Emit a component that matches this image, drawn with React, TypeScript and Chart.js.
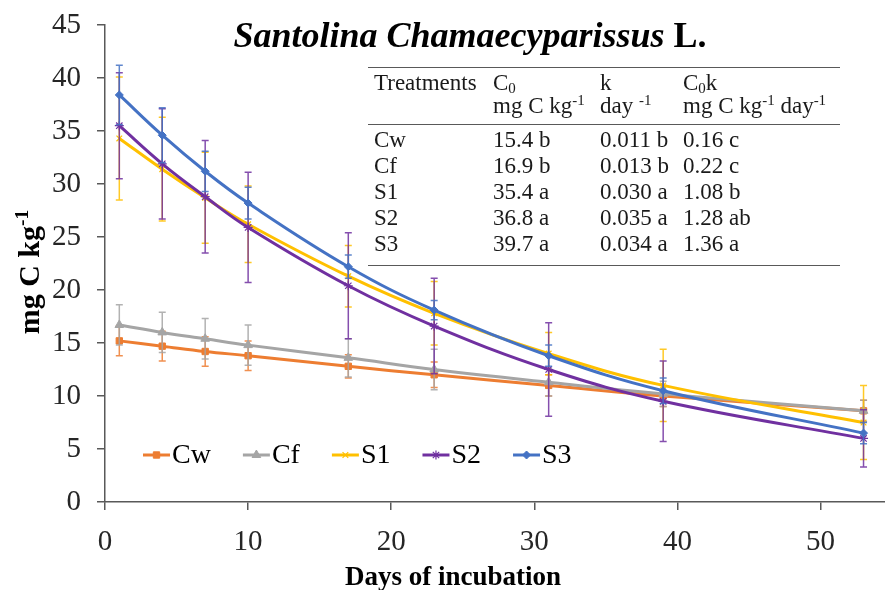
import React, { useEffect, useRef } from 'react';
import { Chart, registerables } from 'chart.js';
import { drawPoint } from 'chart.js/helpers';

Chart.register(...registerables);

// ---------- data ----------
const days = [1, 4, 7, 10, 17, 23, 31, 39, 53];
const seriesNames = ['Cw', 'Cf', 'S1', 'S2', 'S3'];
const cwValues = [15.2, 14.7, 14.2, 13.8, 12.8, 12.0, 11.0, 10.0, 8.6];
const cfValues = [16.7, 16.0, 15.4, 14.8, 13.6, 12.5, 11.3, 10.2, 8.6];
const s1Values = [34.3, 31.4, 28.7, 26.2, 21.3, 17.8, 14.0, 11.0, 7.5];
const s2Values = [35.5, 31.9, 28.8, 25.9, 20.4, 16.6, 12.5, 9.5, 6.0];
const s3Values = [38.4, 34.6, 31.2, 28.2, 22.2, 18.1, 13.8, 10.5, 6.5];
const cwErrors = [1.4, 1.4, 1.4, 1.4, 1.1, 1.2, 1.0, 1.0, 1.0];
const cfErrors = [1.9, 1.9, 1.9, 1.9, 1.8, 1.9, 1.3, 1.2, 1.0];
const s1Errors = [5.8, 4.9, 4.3, 3.6, 2.9, 3.0, 2.0, 3.4, 3.5];
const s2Errors = [5.0, 5.2, 5.3, 5.2, 5.0, 4.5, 4.4, 3.8, 2.7];
const s3Errors = [2.8, 2.6, 1.9, 1.5, 1.1, 0.9, 1.0, 1.2, 1.0];
const xTickValues = [0, 10, 20, 30, 40, 50];
const yTickValues = [0, 5, 10, 15, 20, 25, 30, 35, 40, 45];

const tableTreatments = ['Cw', 'Cf', 'S1', 'S2', 'S3'];
const tableC0 = ['15.4 b', '16.9 b', '35.4 a', '36.8 a', '39.7 a'];
const tableK = ['0.011 b', '0.013 b', '0.030 a', '0.035 a', '0.034 a'];
const tableC0k = ['0.16 c', '0.22 c', '1.08 b', '1.28 ab', '1.36 a'];

const titleItalic = 'Santolina Chamaecyparissus';
const titlePlain = ' L.';
const xTitle = 'Days of incubation';

// ---------- styles ----------
const colors = ['#ED7D31', '#A5A5A5', '#FFC000', '#7030A0', '#4472C4'];
const pointStyles = ['rect', 'triangle', 'crossRot', 'star', 'rectRot'];
const pointRadii = [4.5, 5, 4, 4.5, 4];
const pointBorders = [1, 1, 1.2, 1.2, 1];
const SERIF = '"Liberation Serif", "Times New Roman", serif';

type Seg = { t: string; s?: 'sub' | 'sup' };

function drawRich(ctx: CanvasRenderingContext2D, segs: Seg[], x: number, y: number, size: number, weight = 'normal', style = 'normal') {
  let cx = x;
  for (const seg of segs) {
    let fs = size;
    let dy = 0;
    if (seg.s === 'sub') { fs = size * 0.65; dy = size * 0.12; }
    if (seg.s === 'sup') { fs = size * 0.65; dy = -size * 0.36; }
    ctx.font = `${style} ${weight} ${fs}px ${SERIF}`;
    ctx.fillText(seg.t, cx, y + dy);
    cx += ctx.measureText(seg.t).width;
  }
  return cx - x;
}

function measureRich(ctx: CanvasRenderingContext2D, segs: Seg[], size: number, weight = 'normal', style = 'normal') {
  let w = 0;
  for (const seg of segs) {
    const fs = seg.s ? size * 0.65 : size;
    ctx.font = `${style} ${weight} ${fs}px ${SERIF}`;
    w += ctx.measureText(seg.t).width;
  }
  return w;
}

const errorValues = [cwErrors, cfErrors, s1Errors, s2Errors, s3Errors];

const errorBarPlugin = {
  id: 'errorBars',
  beforeDatasetDraw(chart: any, args: any) {
    const { ctx, scales } = chart;
    const i = args.index;
    const errs = errorValues[i];
    const ds = chart.data.datasets[i];
    ctx.save();
    ctx.strokeStyle = colors[i];
    ctx.lineWidth = 1.5;
    ctx.globalAlpha = 0.85;
    ds.data.forEach((p: any, j: number) => {
      const x = scales.x.getPixelForValue(p.x);
      const yt = scales.y.getPixelForValue(p.y + errs[j]);
      const yb = scales.y.getPixelForValue(p.y - errs[j]);
      ctx.beginPath();
      ctx.moveTo(x, yt); ctx.lineTo(x, yb);
      ctx.moveTo(x - 3.5, yt); ctx.lineTo(x + 3.5, yt);
      ctx.moveTo(x - 3.5, yb); ctx.lineTo(x + 3.5, yb);
      ctx.stroke();
    });
    ctx.restore();
  },
};

const decorPlugin = {
  id: 'decor',
  afterDraw(chart: any) {
    const ctx: CanvasRenderingContext2D = chart.ctx;
    ctx.save();
    ctx.fillStyle = '#000';
    ctx.textBaseline = 'alphabetic';
    ctx.textAlign = 'left';

    // Title
    const tSize = 36;
    ctx.font = `italic bold ${tSize}px ${SERIF}`;
    const w1 = ctx.measureText(titleItalic).width;
    ctx.font = `normal bold ${tSize}px ${SERIF}`;
    const w2 = ctx.measureText(titlePlain).width;
    const tx = 470 - (w1 + w2) / 2;
    ctx.font = `italic bold ${tSize}px ${SERIF}`;
    ctx.fillText(titleItalic, tx, 47);
    ctx.font = `normal bold ${tSize}px ${SERIF}`;
    ctx.fillText(titlePlain, tx + w1, 47);

    // Table
    const fs = 23;
    const cols = [374, 493, 600, 683];
    ctx.strokeStyle = '#595959';
    ctx.lineWidth = 1;
    [67, 124, 265].forEach((yy) => {
      ctx.beginPath(); ctx.moveTo(368, yy + 0.5); ctx.lineTo(840, yy + 0.5); ctx.stroke();
    });
    ctx.fillStyle = '#1a1a1a';
    const head1: Seg[][] = [[{ t: 'Treatments' }], [{ t: 'C' }, { t: '0', s: 'sub' }], [{ t: 'k' }], [{ t: 'C' }, { t: '0', s: 'sub' }, { t: 'k' }]];
    const head2: Seg[][] = [[], [{ t: 'mg C kg' }, { t: '-1', s: 'sup' }], [{ t: 'day ' }, { t: '-1', s: 'sup' }], [{ t: 'mg C kg' }, { t: '-1', s: 'sup' }, { t: ' day' }, { t: '-1', s: 'sup' }]];
    head1.forEach((segs, c) => drawRich(ctx, segs, cols[c], 90, fs));
    head2.forEach((segs, c) => drawRich(ctx, segs, cols[c], 113, fs));
    tableTreatments.forEach((tr, r) => {
      const yy = 147 + r * 26;
      const cells = [tr, tableC0[r], tableK[r], tableC0k[r]];
      cells.forEach((txt, c) => drawRich(ctx, [{ t: txt }], cols[c], yy, fs));
    });

    // Legend
    const lfs = 28;
    let lx = 143;
    const ly = 455;
    seriesNames.forEach((name, i) => {
      ctx.strokeStyle = colors[i];
      ctx.lineWidth = 3;
      ctx.beginPath(); ctx.moveTo(lx, ly); ctx.lineTo(lx + 27, ly); ctx.stroke();
      ctx.fillStyle = colors[i];
      ctx.lineWidth = pointBorders[i];
      drawPoint(ctx, { pointStyle: pointStyles[i], radius: pointRadii[i], rotation: 0, borderWidth: pointBorders[i] } as any, lx + 13.5, ly);
      ctx.fillStyle = '#000';
      ctx.font = `normal normal ${lfs}px ${SERIF}`;
      ctx.textBaseline = 'middle';
      ctx.fillText(name, lx + 29, ly + 1);
      const tw = ctx.measureText(name).width;
      lx += 29 + tw + 32;
    });

    // Axis titles
    ctx.textBaseline = 'alphabetic';
    ctx.fillStyle = '#000';
    ctx.font = `normal bold 27px ${SERIF}`;
    ctx.textAlign = 'center';
    ctx.fillText(xTitle, 453, 585);
    ctx.save();
    ctx.translate(39, 272);
    ctx.rotate(-Math.PI / 2);
    const ySegs: Seg[] = [{ t: 'mg C kg' }, { t: '-1', s: 'sup' }];
    ctx.textAlign = 'left';
    const yw = measureRich(ctx, ySegs, 30, 'bold');
    drawRich(ctx, ySegs, -yw / 2, 0, 30, 'bold');
    ctx.restore();

    ctx.restore();
  },
};

export default function App() {
  const ref = useRef<HTMLCanvasElement>(null);
  useEffect(() => {
    if (!ref.current) return;
    const allValues = [cwValues, cfValues, s1Values, s2Values, s3Values];
    const chart = new Chart(ref.current, {
      type: 'line',
      data: {
        datasets: seriesNames.map((name, i) => ({
          label: name,
          data: days.map((d, j) => ({ x: d, y: allValues[i][j] })),
          borderColor: colors[i],
          backgroundColor: colors[i],
          pointBackgroundColor: colors[i],
          pointBorderColor: colors[i],
          pointStyle: pointStyles[i] as any,
          pointRadius: pointRadii[i],
          pointBorderWidth: pointBorders[i],
          borderWidth: 3,
          tension: 0.4,
          fill: false,
          clip: false as any,
          order: 5 - i,
        })),
      },
      options: {
        animation: false,
        responsive: true,
        maintainAspectRatio: false,
        layout: { autoPadding: false, padding: { top: 25, right: 0, left: 0, bottom: 0 } },
        plugins: { legend: { display: false }, tooltip: { enabled: false }, title: { display: false } },
        scales: {
          x: {
            type: 'linear',
            min: 0,
            max: 54.5,
            afterBuildTicks: (s: any) => { s.ticks = xTickValues.map((v) => ({ value: v })); },
            afterFit: (s: any) => { s.height = 88; s.paddingLeft = 0; s.paddingRight = 0; },
            ticks: { font: { family: SERIF, size: 29 }, color: '#262626', padding: 15, maxRotation: 0 },
            grid: { drawOnChartArea: false, tickLength: 8, color: '#595959', lineWidth: 1.5 },
            border: { color: '#595959', width: 1.5 },
          },
          y: {
            type: 'linear',
            min: 0,
            max: 45,
            afterBuildTicks: (s: any) => { s.ticks = yTickValues.map((v) => ({ value: v })); },
            afterFit: (s: any) => { s.width = 105; s.paddingTop = 0; s.paddingBottom = 0; },
            ticks: { font: { family: SERIF, size: 29 }, color: '#262626', padding: 16 },
            grid: { drawOnChartArea: false, tickLength: 8, color: '#595959', lineWidth: 1.5 },
            border: { color: '#595959', width: 1.5 },
          },
        },
      },
      plugins: [errorBarPlugin, decorPlugin],
    });
    return () => chart.destroy();
  }, []);
  return (
    <>
      <style>{`body{margin:0}`}</style>
      <div style={{ width: 885, height: 590, position: 'relative', background: '#fff' }}>
        <canvas ref={ref} />
      </div>
    </>
  );
}
